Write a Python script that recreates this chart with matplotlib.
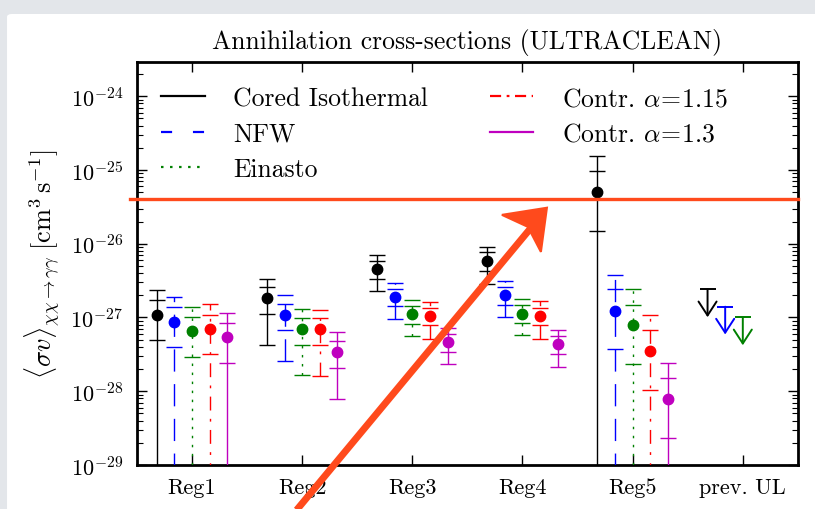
import matplotlib

matplotlib.use("Agg")
import matplotlib.pyplot as plt
import numpy as np
from matplotlib.lines import Line2D
from matplotlib.patches import FancyBboxPatch, Polygon
from matplotlib.ticker import LogLocator, NullFormatter

plt.rcParams["font.family"] = "serif"
plt.rcParams["font.serif"] = ["cmr10"]
plt.rcParams["mathtext.fontset"] = "cm"
plt.rcParams["axes.formatter.use_mathtext"] = True
plt.rcParams["axes.unicode_minus"] = False
plt.rcParams["lines.scale_dashes"] = False

regions = ["Reg1", "Reg2", "Reg3", "Reg4", "Reg5", "prev. UL"]
profiles = [
    "Cored Isothermal",
    "NFW",
    "Einasto",
    r"Contr. $\alpha\!=\!1.15$",
    r"Contr. $\alpha\!=\!1.3$",
]

# best-fit <sigma v> per profile (rows) and region (columns), cm^3 s^-1
mid = np.array([
    [1.09e-27, 1.83e-27, 4.57e-27, 5.87e-27, 5.10e-26],
    [8.67e-28, 1.09e-27, 1.89e-27, 2.03e-27, 1.24e-27],
    [6.46e-28, 6.88e-28, 1.10e-27, 1.13e-27, 7.80e-28],
    [7.03e-28, 6.88e-28, 1.04e-27, 1.05e-27, 3.46e-28],
    [5.37e-28, 3.43e-28, 4.58e-28, 4.31e-28, 7.94e-29],
])
# 1 sigma band
lo1 = np.array([
    [4.94e-28, 1.11e-27, 3.34e-27, 4.26e-27, 1.50e-26],
    [3.98e-28, 6.67e-28, 1.41e-27, 1.46e-27, 3.69e-28],
    [2.90e-28, 4.27e-28, 8.13e-28, 8.40e-28, 2.31e-28],
    [3.19e-28, 4.20e-28, 7.80e-28, 7.80e-28, 1.03e-28],
    [2.45e-28, 2.06e-28, 3.40e-28, 3.19e-28, 2.34e-29],
])
hi1 = np.array([
    [1.70e-27, 2.55e-27, 5.87e-27, 7.70e-27, 9.60e-26],
    [1.37e-27, 1.52e-27, 2.45e-27, 2.58e-27, 2.40e-27],
    [1.00e-27, 9.90e-28, 1.43e-27, 1.46e-27, 1.47e-27],
    [1.09e-27, 9.70e-28, 1.34e-27, 1.35e-27, 6.67e-28],
    [8.40e-28, 4.83e-28, 5.96e-28, 5.53e-28, 1.51e-28],
])
# 2 sigma band (0 = consistent with zero)
lo2 = np.array([
    [0.0, 4.27e-28, 2.28e-27, 2.86e-27, 0.0],
    [0.0, 2.54e-28, 9.60e-28, 1.01e-27, 0.0],
    [0.0, 1.64e-28, 5.53e-28, 5.70e-28, 0.0],
    [0.0, 1.59e-28, 5.14e-28, 5.14e-28, 0.0],
    [0.0, 7.94e-29, 2.31e-28, 2.13e-28, 0.0],
])
hi2 = np.array([
    [2.38e-27, 3.34e-27, 7.14e-27, 9.00e-27, 1.57e-25],
    [1.87e-27, 2.01e-27, 2.95e-27, 3.17e-27, 3.79e-27],
    [1.38e-27, 1.30e-27, 1.72e-27, 1.77e-27, 2.40e-27],
    [1.50e-27, 1.26e-27, 1.63e-27, 1.65e-27, 1.07e-27],
    [1.16e-27, 6.34e-28, 7.18e-28, 6.67e-28, 2.43e-28],
])
# earlier upper limits (Cored, NFW, Einasto)
prev_ul = [2.40e-27, 1.40e-27, 1.00e-27]
thermal = 4.1e-26
decades = [1e-29, 1e-28, 1e-27, 1e-26, 1e-25, 1e-24]

colors = ["k", "b", "g", "r", "m"]
bar_styles = ["-", (0, (16, 9)), (0, (1.8, 4.7)), (0, (10, 6, 2, 6)), "-"]
key_styles = ["-", (0, (8, 15)), (0, (1.8, 4.7)), (0, (8, 4, 2, 4)), "-"]
offsets = [-0.32, -0.16, 0.0, 0.16, 0.32]

fig = plt.figure(figsize=(8.15, 5.1), dpi=100)
fig.patch.set_facecolor("#e3e6ea")
fig.patches.append(FancyBboxPatch(
    (0.0086, -0.05), 1.05, 1.0206,
    boxstyle="round,pad=0,rounding_size=0.006",
    transform=fig.transFigure, facecolor="white", edgecolor="none",
    zorder=-5,
))

ax = fig.add_axes([0.168, 0.0863, 0.811, 0.790])
ax.set_yscale("log")
x = np.arange(1, len(regions) + 1)

for i in range(len(profiles)):
    xs = x[:5] + offsets[i]
    outer = ax.errorbar(
        xs, mid[i], yerr=[mid[i] - lo2[i], hi2[i] - mid[i]],
        fmt="o", color=colors[i], ms=7.5, elinewidth=1.0,
        capsize=6, capthick=1.0, zorder=3,
    )
    outer[2][0].set_linestyle(bar_styles[i])
    inner = ax.errorbar(
        xs, mid[i], yerr=[mid[i] - lo1[i], hi1[i] - mid[i]],
        fmt="none", ecolor=colors[i], capsize=6, capthick=1.0, zorder=3,
    )
    inner[2][0].set_visible(False)

# previous upper limits, drawn as capped down arrows
for i, ul in enumerate(prev_ul):
    xu = x[5] + offsets[i]
    ax.plot([xu], [ul], marker="_", ms=12, mew=1.4, color=colors[i])
    ax.annotate(
        "", xy=(xu, ul * 0.42), xytext=(xu, ul),
        arrowprops=dict(arrowstyle="->,head_width=0.65,head_length=1.0",
                        color=colors[i], lw=1.4, shrinkA=0, shrinkB=0,
                        mutation_scale=10),
    )

ax.axhline(thermal, xmin=-0.011, xmax=1.0, color="#ff4a1c", lw=2.4,
           clip_on=False, zorder=10)

ax.set_xlim(0.5, 6.5)
ax.set_ylim(1e-29, 2.9e-24)
ax.set_xticks(x)
ax.set_xticklabels(regions)
ax.set_yticks(decades)
ax.yaxis.set_minor_locator(LogLocator(base=10, subs=np.arange(2, 10)))
ax.yaxis.set_minor_formatter(NullFormatter())
ax.tick_params(which="both", direction="in", top=True, right=True)
ax.tick_params(which="major", length=7, width=1.0, labelsize=16)
ax.tick_params(which="minor", length=4.5, width=0.8)
ax.tick_params(axis="x", which="minor", bottom=False, top=False)
ax.tick_params(axis="x", pad=9)
ax.tick_params(axis="y", pad=10)
for s in ax.spines.values():
    s.set_linewidth(2)

ax.set_ylabel(
    r"$\langle\sigma v\rangle_{\chi\chi\rightarrow\gamma\gamma}\;"
    r"[\mathrm{cm}^3\,\mathrm{s}^{-1}]$",
    fontsize=19, labelpad=6,
)
ax.set_title("Annihilation cross-sections (ULTRACLEAN)", fontsize=18.5,
             pad=10)

handles = [Line2D([], [], color=c, ls=ls, lw=1.6)
           for c, ls in zip(colors, key_styles)]
ax.legend(handles, profiles, loc="upper left", ncol=2, frameon=False,
          fontsize=18.5, handlelength=1.7, handletextpad=1.1,
          columnspacing=2.4, labelspacing=0.45, borderaxespad=0.55)

# hand-drawn style pointer towards the thermal line
shaft = Line2D([0.2405, 0.5961], [-0.114, 0.5885], transform=ax.transAxes,
               color="#ff4a1c", lw=5, solid_capstyle="butt", clip_on=False,
               zorder=20)
ax.add_line(shaft)
head = Polygon(
    [(0.6203, 0.6385), (0.5522, 0.6208), (0.5915, 0.5910), (0.6112, 0.5289)],
    closed=True, transform=ax.transAxes, facecolor="#ff4a1c",
    edgecolor="#ff4a1c", lw=1.5, clip_on=False, zorder=20,
)
ax.add_patch(head)

fig.savefig("out.png", dpi=100, facecolor=fig.get_facecolor())
